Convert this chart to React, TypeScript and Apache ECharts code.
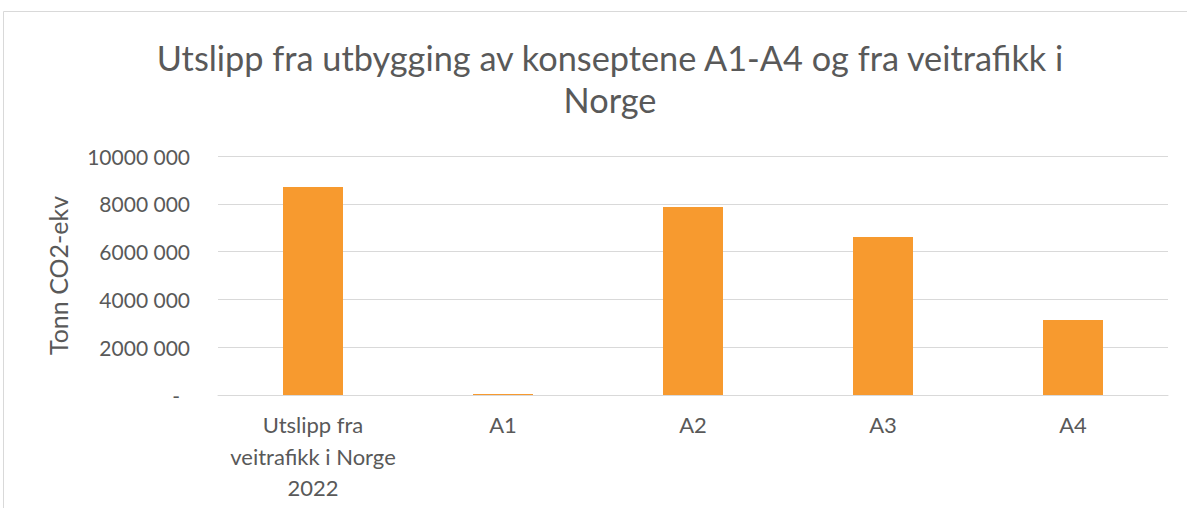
import React, { useEffect, useRef } from "react";
import * as echarts from "echarts";

const categories = ["Utslipp fra\nveitrafikk i Norge\n2022", "A1", "A2", "A3", "A4"];
const values = [8700000, 40000, 7870000, 6610000, 3140000];
const titleText = "Utslipp fra utbygging av konseptene A1-A4 og fra veitrafikk i\nNorge";
const yAxisName = "Tonn CO2-ekv";

const FONT = "Lato, 'Open Sans', sans-serif";
const GREY = "#595959";

export default function App() {
  const ref = useRef<HTMLDivElement>(null);
  useEffect(() => {
    if (!ref.current) return;
    const chart = echarts.init(ref.current, null, { renderer: "svg" });
    chart.setOption({
      animation: false,
      backgroundColor: "#ffffff",
      textStyle: { fontFamily: FONT },
      graphic: [
        {
          type: "rect",
          shape: { x: 3.5, y: 11.5, width: 1250, height: 560 },
          style: { fill: "none", stroke: "#d9d9d9", lineWidth: 1 },
          silent: true,
        },
      ],
      title: {
        text: titleText,
        left: 605,
        top: 31,
        textAlign: "center",
        textStyle: {
          fontFamily: FONT,
          fontSize: 34.3,
          fontWeight: "normal",
          color: GREY,
          lineHeight: 42,
        },
      },
      grid: { left: 218, right: 19, top: 156, bottom: 113 },
      xAxis: {
        type: "category",
        data: categories,
        axisLine: { lineStyle: { color: "#d9d9d9", width: 1 } },
        axisTick: { show: false },
        axisLabel: {
          color: GREY,
          fontSize: 22,
          lineHeight: 31.5,
          margin: 14,
          fontFamily: FONT,
          interval: 0,
        },
      },
      yAxis: {
        type: "value",
        min: 0,
        max: 10000000,
        interval: 2000000,
        name: yAxisName,
        nameLocation: "middle",
        nameRotate: 90,
        nameGap: 148,
        nameTextStyle: { color: GREY, fontSize: 25, fontFamily: FONT },
        axisLine: { show: false },
        axisTick: { show: false },
        splitLine: { lineStyle: { color: "#d9d9d9", width: 1 } },
        axisLabel: {
          color: GREY,
          fontSize: 21,
          margin: 28,
          fontFamily: FONT,
          formatter: (v: number) =>
            v === 0 ? "{d|-}" : `${Math.floor(v / 1000)} 000`,
          rich: {
            d: { color: GREY, fontSize: 21, padding: [0, 10, 0, 0], fontFamily: FONT },
          },
        },
      },
      series: [
        {
          type: "bar",
          data: values,
          barWidth: 60,
          itemStyle: { color: "#F79A2F" },
        },
      ],
    });
    return () => chart.dispose();
  }, []);
  return (
    <div
      ref={ref}
      style={{ position: "absolute", left: 0, top: 0, width: 1187, height: 508 }}
    />
  );
}
